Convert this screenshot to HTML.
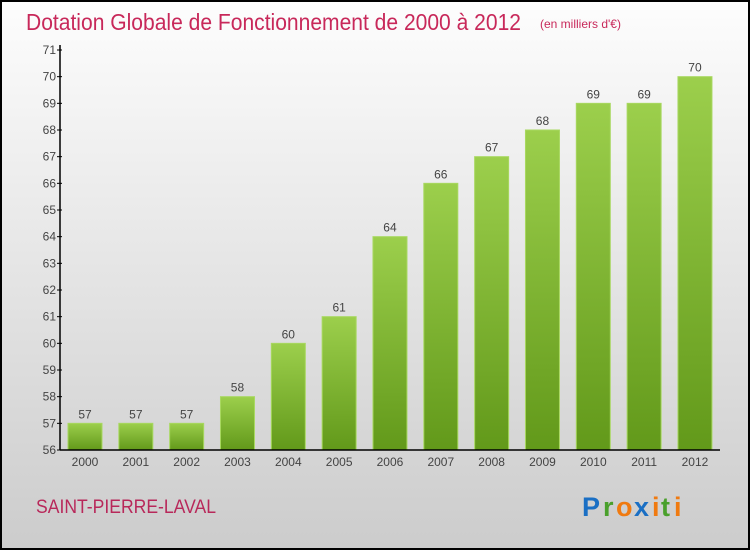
<!DOCTYPE html>
<html><head><meta charset="utf-8"><style>
html,body{margin:0;padding:0;width:750px;height:550px;overflow:hidden}
svg{display:block;font-family:"Liberation Sans",sans-serif}
</style></head><body>
<svg id="c" width="750" height="550" xmlns="http://www.w3.org/2000/svg">
<defs>
<linearGradient id="bg" x1="0" y1="0" x2="0" y2="1"><stop offset="0" stop-color="#fdfdfd"/><stop offset="1" stop-color="#cccccc"/></linearGradient>
<linearGradient id="bar" x1="0" y1="0" x2="0" y2="1"><stop offset="0" stop-color="#9ccf4c"/><stop offset="1" stop-color="#62991a"/></linearGradient>
</defs>
<rect x="1" y="1" width="748" height="548" fill="url(#bg)" stroke="#000" stroke-width="2"/>
<text x="26" y="30" font-size="23" fill="#c8285a" textLength="495" lengthAdjust="spacingAndGlyphs">Dotation Globale de Fonctionnement de 2000 à 2012</text>
<text x="540" y="28" font-size="12" fill="#c8285a">(en milliers d'€)</text>
<g id="plot"></g>
<text x="36" y="513" font-size="19" fill="#b8285a" textLength="180" lengthAdjust="spacingAndGlyphs">SAINT-PIERRE-LAVAL</text>
<g font-size="27" font-weight="bold" font-family="'Liberation Sans',sans-serif">
<text x="582" y="516" fill="#1a6fc4">P</text><text x="603" y="516" fill="#4aa02c">r</text><text x="616" y="516" fill="#f07a10">o</text><text x="634" y="516" fill="#1a6fc4">x</text><text x="652" y="516" fill="#f07a10">i</text><text x="661" y="516" fill="#4aa02c">t</text><text x="674" y="516" fill="#f07a10">i</text>
</g>
</svg>
<script>
const years=["2000","2001","2002","2003","2004","2005","2006","2007","2008","2009","2010","2011","2012"];
const values=[57,57,57,58,60,61,64,66,67,68,69,69,70];
const yTicks=[56,57,58,59,60,61,62,63,64,65,66,67,68,69,70,71];
const NS="http://www.w3.org/2000/svg";
const g=document.getElementById("plot");
const x0=60,x1=720,yB=450,yT=50,yMin=56,yMax=71;
const y=v=>yB-(v-yMin)*(yB-yT)/(yMax-yMin);
const step=(x1-x0-25)/years.length*1.0;
const xc=i=>85+i*50.83;
function el(t,a){const e=document.createElementNS(NS,t);for(const k in a)e.setAttribute(k,a[k]);g.appendChild(e);return e;}
yTicks.forEach(v=>{
 const t=el("line",{x1:x0-3,x2:x0+2,y1:y(v),y2:y(v),stroke:"#000"});
 
 
 const l=el("text",{x:x0-4,y:y(v)+4,"font-size":12,"text-anchor":"end",fill:"#444"});l.textContent=v;
 
 
});
values.forEach((v,i)=>{
 const b=el("rect",{x:xc(i)-17,y:y(v),width:34,height:yB-y(v),fill:"url(#bar)",stroke:"#a8d860","stroke-width":1});
 
 
 const l=el("text",{x:xc(i),y:y(v)-5,"font-size":12,"text-anchor":"middle",fill:"#444"});l.textContent=v;
 
 
 const xl=el("text",{x:xc(i),y:yB+16,"font-size":12,"text-anchor":"middle",fill:"#444"});xl.textContent=years[i];
 
 
});
const ya=el("line",{x1:x0,x2:x0,y1:yT-5,y2:yB,stroke:"#000","stroke-width":1.5});


const xa=el("line",{x1:x0,x2:x1,y1:yB,y2:yB,stroke:"#000","stroke-width":1.5});


</script>
</body></html>
